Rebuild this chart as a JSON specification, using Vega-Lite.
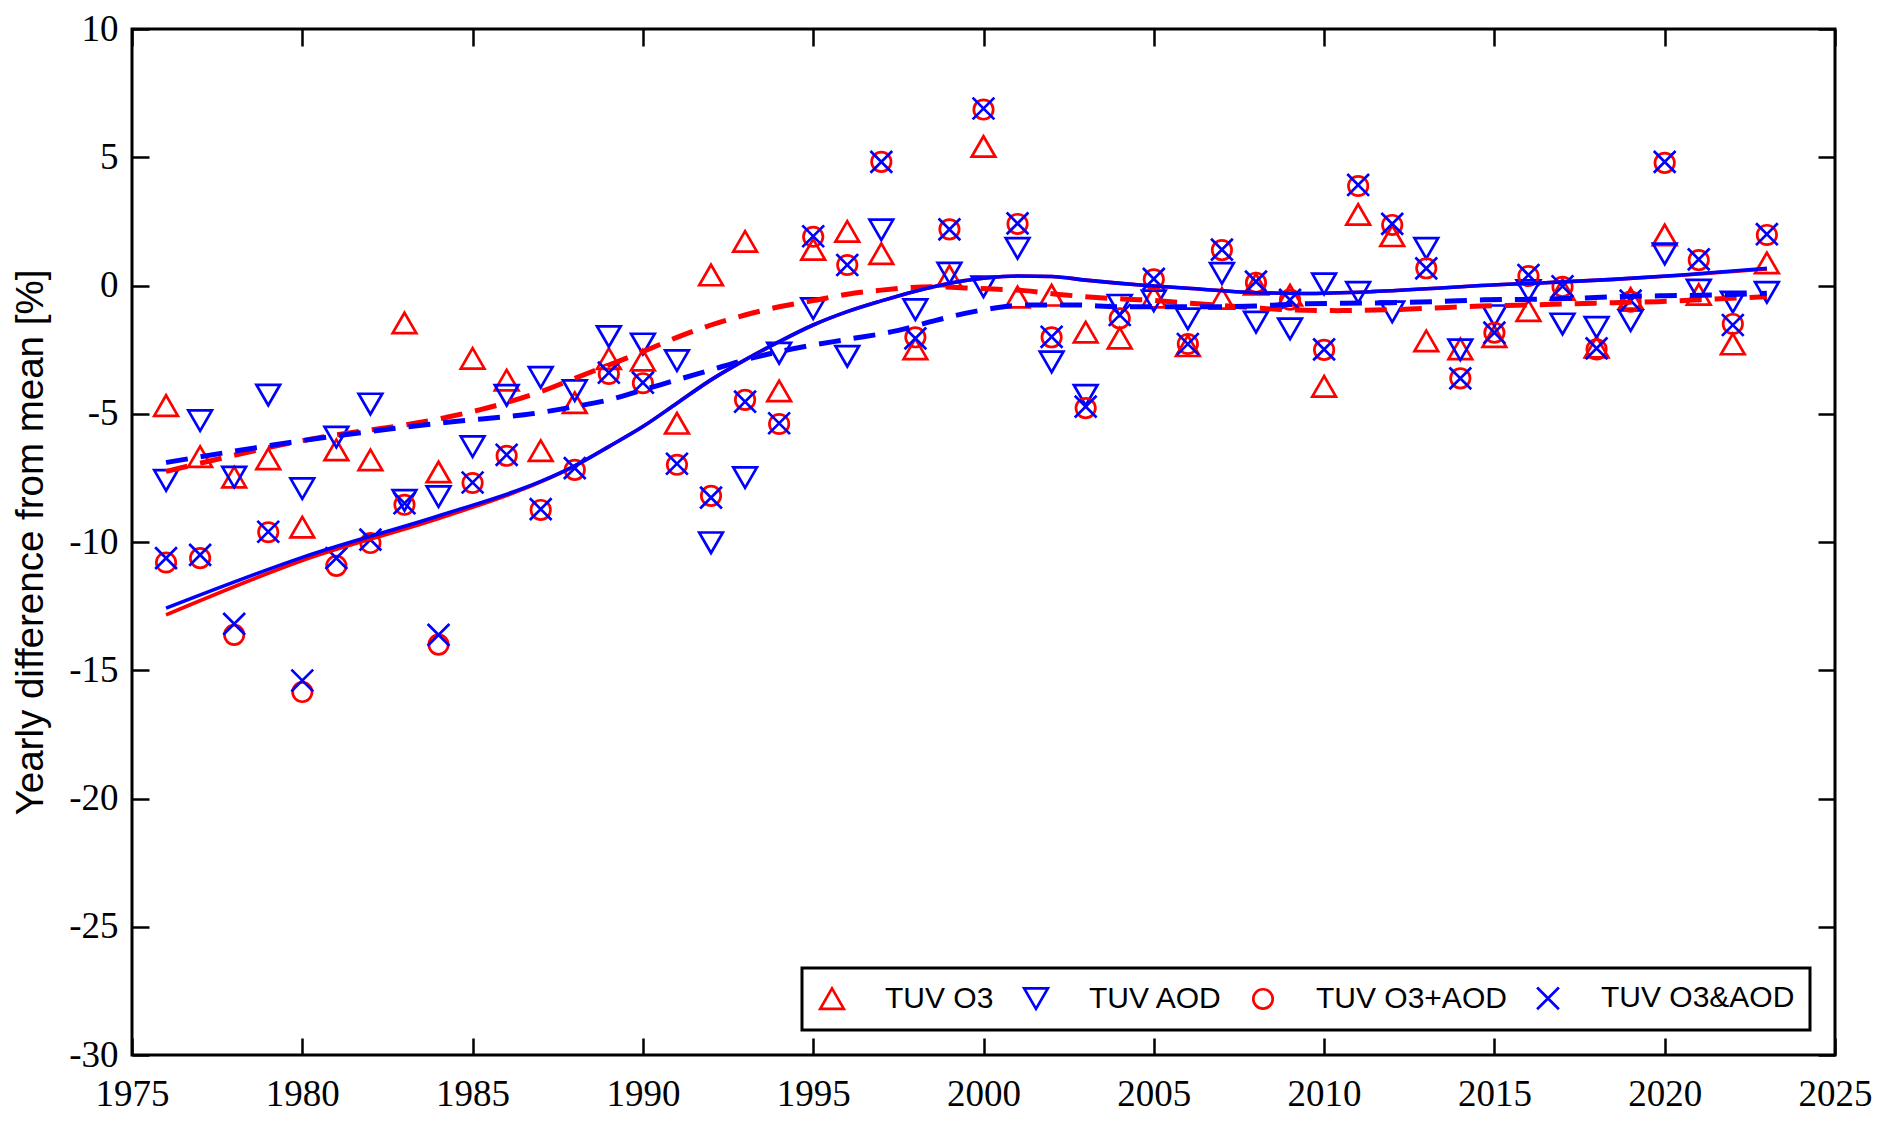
{
  "$schema": "https://vega.github.io/schema/vega-lite/v6.json",
  "width": 1703,
  "height": 1026,
  "autosize": "none",
  "padding": {"left": 132, "top": 29, "right": 57, "bottom": 68},
  "background": "white",
  "config": {
    "view": {"stroke": "black", "strokeWidth": 3},
    "font": "Liberation Sans",
    "axis": {
      "domain": false, "offset": -17,
      "tickColor": "black", "tickWidth": 2.5, "tickSize": 17,
      "labelFont": "Liberation Sans Narrow", "labelFontSize": 37, "labelColor": "black",
      "titleFont": "Liberation Sans", "titleFontWeight": "normal", "titleColor": "black",
      "grid": false
    },
    "legend": {
      "strokeColor": "black", "strokeWidth": 3, "fillColor": "white",
      "padding": 15, "labelFont": "Liberation Sans", "labelFontSize": 30,
      "labelColor": "black", "labelLimit": 400, "symbolSize": 560,
      "symbolStrokeWidth": 2.7, "labelOffset": 38, "columnPadding": 24
    }
  },
  "datasets": {
    "points": [
      {"year": 1976, "series": "TUV O3", "value": -4.68},
      {"year": 1977, "series": "TUV O3", "value": -6.67},
      {"year": 1978, "series": "TUV O3", "value": -7.47},
      {"year": 1979, "series": "TUV O3", "value": -6.76},
      {"year": 1980, "series": "TUV O3", "value": -9.42},
      {"year": 1981, "series": "TUV O3", "value": -6.41},
      {"year": 1982, "series": "TUV O3", "value": -6.8},
      {"year": 1983, "series": "TUV O3", "value": -1.46},
      {"year": 1984, "series": "TUV O3", "value": -7.27},
      {"year": 1985, "series": "TUV O3", "value": -2.84},
      {"year": 1986, "series": "TUV O3", "value": -3.69},
      {"year": 1987, "series": "TUV O3", "value": -6.44},
      {"year": 1988, "series": "TUV O3", "value": -4.57},
      {"year": 1989, "series": "TUV O3", "value": -2.85},
      {"year": 1990, "series": "TUV O3", "value": -2.91},
      {"year": 1991, "series": "TUV O3", "value": -5.37},
      {"year": 1992, "series": "TUV O3", "value": 0.41},
      {"year": 1993, "series": "TUV O3", "value": 1.72},
      {"year": 1994, "series": "TUV O3", "value": -4.11},
      {"year": 1995, "series": "TUV O3", "value": 1.41},
      {"year": 1996, "series": "TUV O3", "value": 2.11},
      {"year": 1997, "series": "TUV O3", "value": 1.24},
      {"year": 1998, "series": "TUV O3", "value": -2.47},
      {"year": 1999, "series": "TUV O3", "value": 0.37},
      {"year": 2000, "series": "TUV O3", "value": 5.42},
      {"year": 2001, "series": "TUV O3", "value": -0.45},
      {"year": 2002, "series": "TUV O3", "value": -0.38},
      {"year": 2003, "series": "TUV O3", "value": -1.82},
      {"year": 2004, "series": "TUV O3", "value": -2.05},
      {"year": 2005, "series": "TUV O3", "value": -0.45},
      {"year": 2006, "series": "TUV O3", "value": -2.35},
      {"year": 2007, "series": "TUV O3", "value": -0.5},
      {"year": 2008, "series": "TUV O3", "value": 0.05},
      {"year": 2009, "series": "TUV O3", "value": -0.38},
      {"year": 2010, "series": "TUV O3", "value": -3.93},
      {"year": 2011, "series": "TUV O3", "value": 2.77},
      {"year": 2012, "series": "TUV O3", "value": 1.94},
      {"year": 2013, "series": "TUV O3", "value": -2.16},
      {"year": 2014, "series": "TUV O3", "value": -2.47},
      {"year": 2015, "series": "TUV O3", "value": -1.99},
      {"year": 2016, "series": "TUV O3", "value": -0.98},
      {"year": 2017, "series": "TUV O3", "value": -0.15},
      {"year": 2018, "series": "TUV O3", "value": -2.4},
      {"year": 2019, "series": "TUV O3", "value": -0.5},
      {"year": 2020, "series": "TUV O3", "value": 1.97},
      {"year": 2021, "series": "TUV O3", "value": -0.35},
      {"year": 2022, "series": "TUV O3", "value": -2.28},
      {"year": 2023, "series": "TUV O3", "value": 0.88},
      {"year": 1976, "series": "TUV AOD", "value": -7.6},
      {"year": 1977, "series": "TUV AOD", "value": -5.27},
      {"year": 1978, "series": "TUV AOD", "value": -7.47},
      {"year": 1979, "series": "TUV AOD", "value": -4.27},
      {"year": 1980, "series": "TUV AOD", "value": -7.92},
      {"year": 1981, "series": "TUV AOD", "value": -5.91},
      {"year": 1982, "series": "TUV AOD", "value": -4.62},
      {"year": 1983, "series": "TUV AOD", "value": -8.38},
      {"year": 1984, "series": "TUV AOD", "value": -8.23},
      {"year": 1985, "series": "TUV AOD", "value": -6.28},
      {"year": 1986, "series": "TUV AOD", "value": -4.28},
      {"year": 1987, "series": "TUV AOD", "value": -3.58},
      {"year": 1988, "series": "TUV AOD", "value": -4.1},
      {"year": 1989, "series": "TUV AOD", "value": -1.99},
      {"year": 1990, "series": "TUV AOD", "value": -2.28},
      {"year": 1991, "series": "TUV AOD", "value": -2.93},
      {"year": 1992, "series": "TUV AOD", "value": -10.03},
      {"year": 1993, "series": "TUV AOD", "value": -7.49},
      {"year": 1994, "series": "TUV AOD", "value": -2.64},
      {"year": 1995, "series": "TUV AOD", "value": -0.9},
      {"year": 1996, "series": "TUV AOD", "value": -2.76},
      {"year": 1997, "series": "TUV AOD", "value": 2.17},
      {"year": 1998, "series": "TUV AOD", "value": -0.94},
      {"year": 1999, "series": "TUV AOD", "value": 0.48},
      {"year": 2000, "series": "TUV AOD", "value": -0.05},
      {"year": 2001, "series": "TUV AOD", "value": 1.45},
      {"year": 2002, "series": "TUV AOD", "value": -2.98},
      {"year": 2003, "series": "TUV AOD", "value": -4.28},
      {"year": 2004, "series": "TUV AOD", "value": -0.77},
      {"year": 2005, "series": "TUV AOD", "value": -0.6},
      {"year": 2006, "series": "TUV AOD", "value": -1.3},
      {"year": 2007, "series": "TUV AOD", "value": 0.47},
      {"year": 2008, "series": "TUV AOD", "value": -1.43},
      {"year": 2009, "series": "TUV AOD", "value": -1.69},
      {"year": 2010, "series": "TUV AOD", "value": 0.06},
      {"year": 2011, "series": "TUV AOD", "value": -0.27},
      {"year": 2012, "series": "TUV AOD", "value": -1.03},
      {"year": 2013, "series": "TUV AOD", "value": 1.45},
      {"year": 2014, "series": "TUV AOD", "value": -2.51},
      {"year": 2015, "series": "TUV AOD", "value": -1.18},
      {"year": 2016, "series": "TUV AOD", "value": -0.2},
      {"year": 2017, "series": "TUV AOD", "value": -1.5},
      {"year": 2018, "series": "TUV AOD", "value": -1.63},
      {"year": 2019, "series": "TUV AOD", "value": -1.37},
      {"year": 2020, "series": "TUV AOD", "value": 1.23},
      {"year": 2021, "series": "TUV AOD", "value": -0.18},
      {"year": 2022, "series": "TUV AOD", "value": -0.65},
      {"year": 2023, "series": "TUV AOD", "value": -0.27},
      {"year": 1976, "series": "TUV O3+AOD", "value": -10.8},
      {"year": 1977, "series": "TUV O3+AOD", "value": -10.63},
      {"year": 1978, "series": "TUV O3+AOD", "value": -13.62},
      {"year": 1979, "series": "TUV O3+AOD", "value": -9.62},
      {"year": 1980, "series": "TUV O3+AOD", "value": -15.85},
      {"year": 1981, "series": "TUV O3+AOD", "value": -10.93},
      {"year": 1982, "series": "TUV O3+AOD", "value": -10.04},
      {"year": 1983, "series": "TUV O3+AOD", "value": -8.55},
      {"year": 1984, "series": "TUV O3+AOD", "value": -14.0},
      {"year": 1985, "series": "TUV O3+AOD", "value": -7.7},
      {"year": 1986, "series": "TUV O3+AOD", "value": -6.64},
      {"year": 1987, "series": "TUV O3+AOD", "value": -8.75},
      {"year": 1988, "series": "TUV O3+AOD", "value": -7.19},
      {"year": 1989, "series": "TUV O3+AOD", "value": -3.45},
      {"year": 1990, "series": "TUV O3+AOD", "value": -3.81},
      {"year": 1991, "series": "TUV O3+AOD", "value": -6.99},
      {"year": 1992, "series": "TUV O3+AOD", "value": -8.2},
      {"year": 1993, "series": "TUV O3+AOD", "value": -4.46},
      {"year": 1994, "series": "TUV O3+AOD", "value": -5.4},
      {"year": 1995, "series": "TUV O3+AOD", "value": 1.9},
      {"year": 1996, "series": "TUV O3+AOD", "value": 0.8},
      {"year": 1997, "series": "TUV O3+AOD", "value": 4.82},
      {"year": 1998, "series": "TUV O3+AOD", "value": -2.02},
      {"year": 1999, "series": "TUV O3+AOD", "value": 2.19},
      {"year": 2000, "series": "TUV O3+AOD", "value": 6.86},
      {"year": 2001, "series": "TUV O3+AOD", "value": 2.4},
      {"year": 2002, "series": "TUV O3+AOD", "value": -2.02},
      {"year": 2003, "series": "TUV O3+AOD", "value": -4.78},
      {"year": 2004, "series": "TUV O3+AOD", "value": -1.28},
      {"year": 2005, "series": "TUV O3+AOD", "value": 0.24},
      {"year": 2006, "series": "TUV O3+AOD", "value": -2.28},
      {"year": 2007, "series": "TUV O3+AOD", "value": 1.38},
      {"year": 2008, "series": "TUV O3+AOD", "value": 0.11},
      {"year": 2009, "series": "TUV O3+AOD", "value": -0.55},
      {"year": 2010, "series": "TUV O3+AOD", "value": -2.51},
      {"year": 2011, "series": "TUV O3+AOD", "value": 3.88},
      {"year": 2012, "series": "TUV O3+AOD", "value": 2.36},
      {"year": 2013, "series": "TUV O3+AOD", "value": 0.67},
      {"year": 2014, "series": "TUV O3+AOD", "value": -3.62},
      {"year": 2015, "series": "TUV O3+AOD", "value": -1.84},
      {"year": 2016, "series": "TUV O3+AOD", "value": 0.37},
      {"year": 2017, "series": "TUV O3+AOD", "value": -0.05},
      {"year": 2018, "series": "TUV O3+AOD", "value": -2.49},
      {"year": 2019, "series": "TUV O3+AOD", "value": -0.63},
      {"year": 2020, "series": "TUV O3+AOD", "value": 4.78},
      {"year": 2021, "series": "TUV O3+AOD", "value": 0.99},
      {"year": 2022, "series": "TUV O3+AOD", "value": -1.5},
      {"year": 2023, "series": "TUV O3+AOD", "value": 1.97},
      {"year": 1976, "series": "TUV O3&AOD", "value": -10.63},
      {"year": 1977, "series": "TUV O3&AOD", "value": -10.5},
      {"year": 1978, "series": "TUV O3&AOD", "value": -13.19},
      {"year": 1979, "series": "TUV O3&AOD", "value": -9.6},
      {"year": 1980, "series": "TUV O3&AOD", "value": -15.4},
      {"year": 1981, "series": "TUV O3&AOD", "value": -10.63},
      {"year": 1982, "series": "TUV O3&AOD", "value": -9.91},
      {"year": 1983, "series": "TUV O3&AOD", "value": -8.49},
      {"year": 1984, "series": "TUV O3&AOD", "value": -13.62},
      {"year": 1985, "series": "TUV O3&AOD", "value": -7.68},
      {"year": 1986, "series": "TUV O3&AOD", "value": -6.6},
      {"year": 1987, "series": "TUV O3&AOD", "value": -8.72},
      {"year": 1988, "series": "TUV O3&AOD", "value": -7.12},
      {"year": 1989, "series": "TUV O3&AOD", "value": -3.4},
      {"year": 1990, "series": "TUV O3&AOD", "value": -3.79},
      {"year": 1991, "series": "TUV O3&AOD", "value": -6.95},
      {"year": 1992, "series": "TUV O3&AOD", "value": -8.27},
      {"year": 1993, "series": "TUV O3&AOD", "value": -4.53},
      {"year": 1994, "series": "TUV O3&AOD", "value": -5.37},
      {"year": 1995, "series": "TUV O3&AOD", "value": 1.92},
      {"year": 1996, "series": "TUV O3&AOD", "value": 0.8},
      {"year": 1997, "series": "TUV O3&AOD", "value": 4.82},
      {"year": 1998, "series": "TUV O3&AOD", "value": -2.06},
      {"year": 1999, "series": "TUV O3&AOD", "value": 2.19},
      {"year": 2000, "series": "TUV O3&AOD", "value": 6.9},
      {"year": 2001, "series": "TUV O3&AOD", "value": 2.42},
      {"year": 2002, "series": "TUV O3&AOD", "value": -2.0},
      {"year": 2003, "series": "TUV O3&AOD", "value": -4.72},
      {"year": 2004, "series": "TUV O3&AOD", "value": -1.15},
      {"year": 2005, "series": "TUV O3&AOD", "value": 0.26},
      {"year": 2006, "series": "TUV O3&AOD", "value": -2.28},
      {"year": 2007, "series": "TUV O3&AOD", "value": 1.4},
      {"year": 2008, "series": "TUV O3&AOD", "value": 0.15},
      {"year": 2009, "series": "TUV O3&AOD", "value": -0.56},
      {"year": 2010, "series": "TUV O3&AOD", "value": -2.49},
      {"year": 2011, "series": "TUV O3&AOD", "value": 3.92},
      {"year": 2012, "series": "TUV O3&AOD", "value": 2.4},
      {"year": 2013, "series": "TUV O3&AOD", "value": 0.67},
      {"year": 2014, "series": "TUV O3&AOD", "value": -3.62},
      {"year": 2015, "series": "TUV O3&AOD", "value": -1.84},
      {"year": 2016, "series": "TUV O3&AOD", "value": 0.41},
      {"year": 2017, "series": "TUV O3&AOD", "value": -0.03},
      {"year": 2018, "series": "TUV O3&AOD", "value": -2.45},
      {"year": 2019, "series": "TUV O3&AOD", "value": -0.59},
      {"year": 2020, "series": "TUV O3&AOD", "value": 4.82},
      {"year": 2021, "series": "TUV O3&AOD", "value": 1.02},
      {"year": 2022, "series": "TUV O3&AOD", "value": -1.54},
      {"year": 2023, "series": "TUV O3&AOD", "value": 2.0}
    ],
    "curves": [
      {"year": 1976, "series": "TUV O3", "value": -7.25},
      {"year": 1980, "series": "TUV O3", "value": -6.05},
      {"year": 1984.2, "series": "TUV O3", "value": -5.15},
      {"year": 1985.2, "series": "TUV O3", "value": -4.85},
      {"year": 1987, "series": "TUV O3", "value": -4.14},
      {"year": 1988, "series": "TUV O3", "value": -3.62},
      {"year": 1989, "series": "TUV O3", "value": -3.1},
      {"year": 1990, "series": "TUV O3", "value": -2.58},
      {"year": 1991, "series": "TUV O3", "value": -2.02},
      {"year": 1992, "series": "TUV O3", "value": -1.54},
      {"year": 1993, "series": "TUV O3", "value": -1.15},
      {"year": 1994, "series": "TUV O3", "value": -0.83},
      {"year": 1995, "series": "TUV O3", "value": -0.59},
      {"year": 1996, "series": "TUV O3", "value": -0.34},
      {"year": 1997, "series": "TUV O3", "value": -0.18},
      {"year": 1998.5, "series": "TUV O3", "value": -0.05},
      {"year": 1999.7, "series": "TUV O3", "value": -0.11},
      {"year": 2001.2, "series": "TUV O3", "value": -0.2},
      {"year": 2002.4, "series": "TUV O3", "value": -0.37},
      {"year": 2003.7, "series": "TUV O3", "value": -0.5},
      {"year": 2004.7, "series": "TUV O3", "value": -0.56},
      {"year": 2006.4, "series": "TUV O3", "value": -0.72},
      {"year": 2007.8, "series": "TUV O3", "value": -0.85},
      {"year": 2009, "series": "TUV O3", "value": -0.95},
      {"year": 2010.4, "series": "TUV O3", "value": -0.98},
      {"year": 2011.8, "series": "TUV O3", "value": -0.95},
      {"year": 2013, "series": "TUV O3", "value": -0.89},
      {"year": 2014.6, "series": "TUV O3", "value": -0.8},
      {"year": 2016, "series": "TUV O3", "value": -0.76},
      {"year": 2017, "series": "TUV O3", "value": -0.72},
      {"year": 2018.5, "series": "TUV O3", "value": -0.67},
      {"year": 2019.8, "series": "TUV O3", "value": -0.63},
      {"year": 2021, "series": "TUV O3", "value": -0.56},
      {"year": 2022.4, "series": "TUV O3", "value": -0.47},
      {"year": 2023, "series": "TUV O3", "value": -0.43},
      {"year": 1976, "series": "TUV AOD", "value": -6.9},
      {"year": 1980, "series": "TUV AOD", "value": -6.05},
      {"year": 1984.2, "series": "TUV AOD", "value": -5.34},
      {"year": 1987, "series": "TUV AOD", "value": -4.95},
      {"year": 1988, "series": "TUV AOD", "value": -4.72},
      {"year": 1989, "series": "TUV AOD", "value": -4.46},
      {"year": 1990, "series": "TUV AOD", "value": -4.07},
      {"year": 1991, "series": "TUV AOD", "value": -3.68},
      {"year": 1992, "series": "TUV AOD", "value": -3.29},
      {"year": 1993, "series": "TUV AOD", "value": -2.9},
      {"year": 1994, "series": "TUV AOD", "value": -2.58},
      {"year": 1995, "series": "TUV AOD", "value": -2.32},
      {"year": 1996, "series": "TUV AOD", "value": -2.1},
      {"year": 1997.5, "series": "TUV AOD", "value": -1.75},
      {"year": 1998.6, "series": "TUV AOD", "value": -1.36},
      {"year": 1999.9, "series": "TUV AOD", "value": -0.97},
      {"year": 2001.3, "series": "TUV AOD", "value": -0.76},
      {"year": 2002.7, "series": "TUV AOD", "value": -0.76},
      {"year": 2004, "series": "TUV AOD", "value": -0.83},
      {"year": 2006.6, "series": "TUV AOD", "value": -0.83},
      {"year": 2008, "series": "TUV AOD", "value": -0.8},
      {"year": 2009.2, "series": "TUV AOD", "value": -0.72},
      {"year": 2010.6, "series": "TUV AOD", "value": -0.69},
      {"year": 2012, "series": "TUV AOD", "value": -0.67},
      {"year": 2013.3, "series": "TUV AOD", "value": -0.63},
      {"year": 2014.7, "series": "TUV AOD", "value": -0.56},
      {"year": 2016, "series": "TUV AOD", "value": -0.54},
      {"year": 2017.3, "series": "TUV AOD", "value": -0.5},
      {"year": 2018.7, "series": "TUV AOD", "value": -0.43},
      {"year": 2020, "series": "TUV AOD", "value": -0.4},
      {"year": 2021.4, "series": "TUV AOD", "value": -0.37},
      {"year": 2023, "series": "TUV AOD", "value": -0.3},
      {"year": 1976, "series": "TUV O3+AOD", "value": -12.84},
      {"year": 1980, "series": "TUV O3+AOD", "value": -10.72},
      {"year": 1984.2, "series": "TUV O3+AOD", "value": -9.0},
      {"year": 1987, "series": "TUV O3+AOD", "value": -7.66},
      {"year": 1988, "series": "TUV O3+AOD", "value": -7.03},
      {"year": 1989, "series": "TUV O3+AOD", "value": -6.28},
      {"year": 1990, "series": "TUV O3+AOD", "value": -5.5},
      {"year": 1991, "series": "TUV O3+AOD", "value": -4.59},
      {"year": 1992, "series": "TUV O3+AOD", "value": -3.68},
      {"year": 1993, "series": "TUV O3+AOD", "value": -2.9},
      {"year": 1994, "series": "TUV O3+AOD", "value": -2.19},
      {"year": 1995, "series": "TUV O3+AOD", "value": -1.54},
      {"year": 1996, "series": "TUV O3+AOD", "value": -1.02},
      {"year": 1997, "series": "TUV O3+AOD", "value": -0.6},
      {"year": 1998, "series": "TUV O3+AOD", "value": -0.22},
      {"year": 1999, "series": "TUV O3+AOD", "value": 0.09},
      {"year": 2000, "series": "TUV O3+AOD", "value": 0.28},
      {"year": 2001, "series": "TUV O3+AOD", "value": 0.37},
      {"year": 2002, "series": "TUV O3+AOD", "value": 0.35},
      {"year": 2003, "series": "TUV O3+AOD", "value": 0.21},
      {"year": 2004.6, "series": "TUV O3+AOD", "value": 0.02},
      {"year": 2006, "series": "TUV O3+AOD", "value": -0.11},
      {"year": 2008, "series": "TUV O3+AOD", "value": -0.28},
      {"year": 2009.4, "series": "TUV O3+AOD", "value": -0.31},
      {"year": 2011.4, "series": "TUV O3+AOD", "value": -0.24},
      {"year": 2013.3, "series": "TUV O3+AOD", "value": -0.11},
      {"year": 2014.6, "series": "TUV O3+AOD", "value": 0.0},
      {"year": 2016.5, "series": "TUV O3+AOD", "value": 0.11},
      {"year": 2018.5, "series": "TUV O3+AOD", "value": 0.24},
      {"year": 2020.5, "series": "TUV O3+AOD", "value": 0.4},
      {"year": 2023, "series": "TUV O3+AOD", "value": 0.64},
      {"year": 1976, "series": "TUV O3&AOD", "value": -12.58},
      {"year": 1980, "series": "TUV O3&AOD", "value": -10.6},
      {"year": 1984.2, "series": "TUV O3&AOD", "value": -8.9},
      {"year": 1987, "series": "TUV O3&AOD", "value": -7.64},
      {"year": 1988, "series": "TUV O3&AOD", "value": -7.03},
      {"year": 1989, "series": "TUV O3&AOD", "value": -6.28},
      {"year": 1990, "series": "TUV O3&AOD", "value": -5.5},
      {"year": 1991, "series": "TUV O3&AOD", "value": -4.59},
      {"year": 1992, "series": "TUV O3&AOD", "value": -3.68},
      {"year": 1993, "series": "TUV O3&AOD", "value": -2.9},
      {"year": 1994, "series": "TUV O3&AOD", "value": -2.19},
      {"year": 1995, "series": "TUV O3&AOD", "value": -1.54},
      {"year": 1996, "series": "TUV O3&AOD", "value": -1.02},
      {"year": 1997, "series": "TUV O3&AOD", "value": -0.6},
      {"year": 1998, "series": "TUV O3&AOD", "value": -0.22},
      {"year": 1999, "series": "TUV O3&AOD", "value": 0.09},
      {"year": 2000, "series": "TUV O3&AOD", "value": 0.28},
      {"year": 2001, "series": "TUV O3&AOD", "value": 0.37},
      {"year": 2002, "series": "TUV O3&AOD", "value": 0.35},
      {"year": 2003, "series": "TUV O3&AOD", "value": 0.21},
      {"year": 2004.6, "series": "TUV O3&AOD", "value": 0.02},
      {"year": 2006, "series": "TUV O3&AOD", "value": -0.11},
      {"year": 2008, "series": "TUV O3&AOD", "value": -0.28},
      {"year": 2009.4, "series": "TUV O3&AOD", "value": -0.31},
      {"year": 2011.4, "series": "TUV O3&AOD", "value": -0.24},
      {"year": 2013.3, "series": "TUV O3&AOD", "value": -0.11},
      {"year": 2014.6, "series": "TUV O3&AOD", "value": 0.0},
      {"year": 2016.5, "series": "TUV O3&AOD", "value": 0.11},
      {"year": 2018.5, "series": "TUV O3&AOD", "value": 0.24},
      {"year": 2020.5, "series": "TUV O3&AOD", "value": 0.41},
      {"year": 2023, "series": "TUV O3&AOD", "value": 0.67}
    ]
  },
  "layer": [
    {
      "mark": {"type": "rule", "color": "black", "strokeWidth": 1.3, "strokeDash": [4, 4]},
      "encoding": {
        "y": {"datum": 0, "type": "quantitative", "axis": null}
      }
    },
    {
      "data": {"name": "points"},
      "mark": {"type": "point", "filled": false, "size": 560, "strokeWidth": 2.7, "opacity": 1},
      "encoding": {
        "x": {
          "field": "year", "type": "quantitative",
          "scale": {"domain": [1975, 2025], "nice": false, "zero": false},
          "axis": {
            "orient": "bottom", "title": null, "format": "d", "labelFlush": false,
            "values": [1975, 1980, 1985, 1990, 1995, 2000, 2005, 2010, 2015, 2020, 2025],
            "labelPadding": 21
          }
        },
        "y": {
          "field": "value", "type": "quantitative",
          "scale": {"domain": [-30, 10], "nice": false, "zero": false},
          "axis": {
            "orient": "left", "title": "Yearly difference from mean [%]",
            "titleFontSize": 38.5, "titlePadding": 18, "labelPadding": 14,
            "labelExpr": "toString(datum.value)",
            "values": [-30, -25, -20, -15, -10, -5, 0, 5, 10]
          }
        },
        "color": {
          "field": "series", "type": "nominal", "title": null,
          "scale": {
            "domain": ["TUV O3", "TUV AOD", "TUV O3+AOD", "TUV O3&AOD"],
            "range": ["#ff0000", "#0000ff", "#ff0000", "#0000ff"]
          },
          "legend": {"orient": "none", "legendX": 670, "legendY": 939, "direction": "horizontal", "columns": 4}
        },
        "shape": {
          "field": "series", "type": "nominal", "title": null,
          "scale": {
            "domain": ["TUV O3", "TUV AOD", "TUV O3+AOD", "TUV O3&AOD"],
            "range": [
              "triangle-up",
              "triangle-down",
              "M0.82,0A0.82,0.82 0 1,1 -0.82,0A0.82,0.82 0 1,1 0.82,0Z",
              "M-0.92,-0.92L0.92,0.92M0.92,-0.92L-0.92,0.92"
            ]
          },
          "legend": {"orient": "none", "legendX": 670, "legendY": 939, "direction": "horizontal", "columns": 4}
        }
      }
    },
    {
      "data": {"name": "curves"},
      "transform": [{"filter": "datum.series === 'TUV O3' || datum.series === 'TUV AOD'"}],
      "mark": {"type": "line", "strokeWidth": 5, "strokeDash": [22, 13], "strokeCap": "butt", "interpolate": "monotone"},
      "encoding": {
        "x": {
          "field": "year", "type": "quantitative",
          "axis": {
            "orient": "top", "title": null, "labels": false,
            "values": [1975, 1980, 1985, 1990, 1995, 2000, 2005, 2010, 2015, 2020, 2025]
          }
        },
        "y": {
          "field": "value", "type": "quantitative",
          "axis": {
            "orient": "right", "title": null, "labels": false,
            "values": [-30, -25, -20, -15, -10, -5, 0, 5, 10]
          }
        },
        "stroke": {
          "field": "series", "type": "nominal",
          "scale": {
            "domain": ["TUV O3", "TUV AOD", "TUV O3+AOD", "TUV O3&AOD"],
            "range": ["#ff0000", "#0000ff", "#ff0000", "#0000ff"]
          },
          "legend": null
        }
      }
    },
    {
      "data": {"name": "curves"},
      "transform": [{"filter": "datum.series === 'TUV O3+AOD' || datum.series === 'TUV O3&AOD'"}],
      "mark": {"type": "line", "strokeWidth": 3.6, "interpolate": "monotone"},
      "encoding": {
        "x": {"field": "year", "type": "quantitative", "axis": null},
        "y": {"field": "value", "type": "quantitative", "axis": null},
        "stroke": {
          "field": "series", "type": "nominal",
          "scale": {
            "domain": ["TUV O3", "TUV AOD", "TUV O3+AOD", "TUV O3&AOD"],
            "range": ["#ff0000", "#0000ff", "#ff0000", "#0000ff"]
          },
          "legend": null
        }
      }
    }
  ],
  "resolve": {"axis": {"x": "independent", "y": "independent"}}
}
